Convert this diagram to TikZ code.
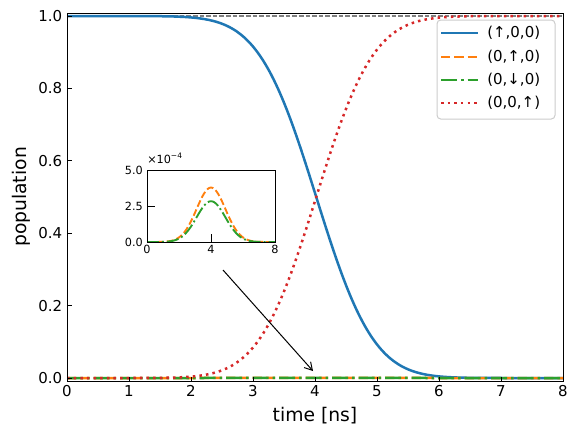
\documentclass[tikz,border=0pt]{standalone}
\usepackage{fontspec}
\setmainfont{DejaVu Sans}
\usetikzlibrary{arrows.meta}
\definecolor{tabblue}{HTML}{1F77B4}
\definecolor{taborange}{HTML}{FF7F0E}
\definecolor{tabgreen}{HTML}{2CA02C}
\definecolor{tabred}{HTML}{D62728}
\tikzset{
  frameline/.style={line width=0.8pt, black},
  tickline/.style={line width=0.8pt, black},
  ticklab/.style={inner sep=0pt, font=\fontsize{12}{14}\selectfont},
  insetlab/.style={inner sep=0pt, font=\fontsize{9}{11}\selectfont},
  axlab/.style={inner sep=0pt, font=\fontsize{15}{18}\selectfont},
  leglab/.style={inner sep=0pt, anchor=west, font=\fontsize{12}{14}\selectfont},
  solidcurve/.style={tabblue, line width=2pt},
  dashcurve/.style={taborange, line width=2pt, dash pattern=on 7.4pt off 3.2pt},
  dashdotcurve/.style={tabgreen, line width=2pt, dash pattern=on 12.8pt off 3.2pt on 2pt off 3.2pt},
  dotcurve/.style={tabred, line width=2pt, dash pattern=on 2pt off 3.3pt},
  insetdash/.style={taborange, line width=1.5pt, dash pattern=on 5.5pt off 2.4pt},
  insetdashdot/.style={tabgreen, line width=1.5pt, dash pattern=on 9.6pt off 2.4pt on 1.5pt off 2.4pt},
  refline/.style={gray, line width=1pt, dash pattern=on 3.7pt off 1.6pt},
  pointer/.style={black, line width=0.8pt, -{Straight Barb[length=6pt,width=7pt]}},
  legbox/.style={draw=black!20, fill=white, fill opacity=0.8, rounded corners=3pt, line width=0.8pt}
}
\begin{document}
\begin{tikzpicture}[x=0.8pt, y=-0.8pt,
  declare function={
    zz(\t)=(\t-4.02)/1.15;
    th(\t)=90/(1+exp(0-(1.5976*zz(\t)+0.070566*zz(\t)*zz(\t)*zz(\t))));
    pb(\t)=cos(th(\t))^2;
    pr(\t)=sin(th(\t))^2;
    gs(\t)=exp(0-((\t-4)*(\t-4))/1.62);
  }]
\useasboundingbox (0,0) rectangle (578,437);
% main curves
\begin{scope}
\clip (67,13) rectangle (563,381);
\draw[refline] (67,16) -- (563,16);
\draw[solidcurve] plot[domain=0:8, samples=241] ({67+62*\x},{378-362*pb(\x)});
\draw[dashcurve] plot[domain=0:8, samples=81] ({67+62*\x},{378-362*0.000378*gs(\x)});
\draw[dashdotcurve] plot[domain=0:8, samples=81] ({67+62*\x},{378-362*0.000283*gs(\x)});
\draw[dotcurve] plot[domain=0:8, samples=241] ({67+62*\x},{378-362*pr(\x)});
\end{scope}
% frame
\draw[frameline] (67,13) rectangle (563,381);
% x ticks
\foreach \i in {0,...,8} {
  \draw[tickline] ({67+62*\i},381) -- ++(0,-4.5);
  \node[ticklab, anchor=north] (xt\i) at ({67+62*\i},385.5) {\i};
}
% y ticks
\foreach \v/\l in {0/0.0,1/0.2,2/0.4,3/0.6,4/0.8,5/1.0} {
  \draw[tickline] (67,{378-72.4*\v}) -- ++(4.5,0);
  \node[ticklab, anchor=east] (yt\v) at (62.5,{378-72.4*\v}) {\l};
}
\node[axlab] (xlabel) at (315,416) {time [ns]};
\node[axlab, rotate=90] (ylabel) at (21,197) {population};
% legend
\path[legbox] (437,20) rectangle (555,119);
\draw[solidcurve] (441,33) -- (478,33);
\draw[dashcurve] (441,57) -- (478,57);
\draw[dashdotcurve] (441,80) -- (478,80);
\draw[dotcurve] (441,103) -- (478,103);
\node[leglab] (lg1) at (487,33) {(↑,0,0)};
\node[leglab] (lg2) at (487,57) {(0,↑,0)};
\node[leglab] (lg3) at (487,80) {(0,↓,0)};
\node[leglab] (lg4) at (487,103) {(0,0,↑)};
% inset
\fill[white] (147,170) rectangle (275,242);
\begin{scope}
\clip (147,170) rectangle (275,242);
\draw[insetdash] plot[domain=0:8, samples=121] ({147+16*\x},{242-14.4*3.78*gs(\x)});
\draw[insetdashdot] plot[domain=0:8, samples=121] ({147+16*\x},{242-14.4*2.83*gs(\x)});
\end{scope}
\draw[frameline] (147,170) rectangle (275,242);
\foreach \i in {0,4,8} {
  \draw[tickline] ({147+16*\i},242) -- ++(0,-8);
  \node[insetlab, anchor=north] (it\i) at ({147+16*\i},245) {\i};
}
\foreach \v/\l in {0/0.0,1/2.5,2/5.0} {
  \draw[tickline] (147,{242-36*\v}) -- ++(8,0);
  \node[insetlab, anchor=east] (iy\v) at (143,{242-36*\v}) {\l};
}
\node[insetlab, anchor=south west] (expo) at (147,164) {×10\textsuperscript{−4}};
% pointer
\coordinate (arrS) at (223,270);
\coordinate (arrE) at (313,371);
\draw[pointer] (arrS) -- (arrE);
\end{tikzpicture}
\end{document}
